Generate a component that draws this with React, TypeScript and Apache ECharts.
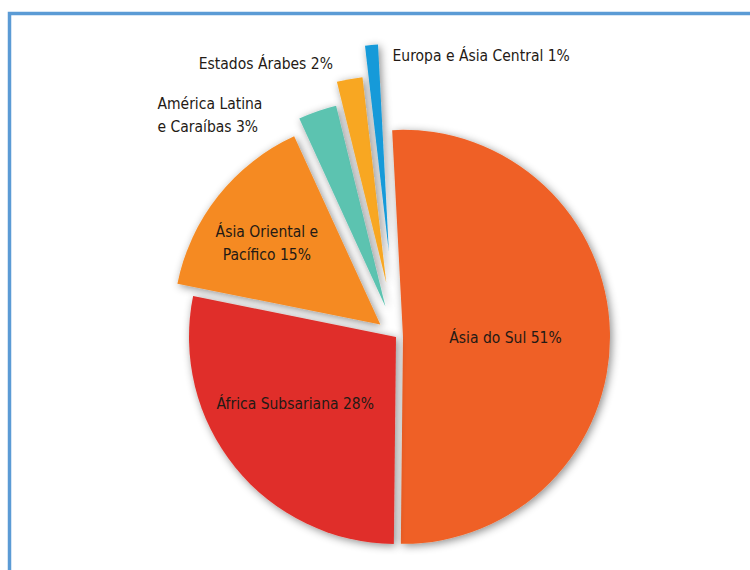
import React, { useEffect, useRef } from "react";
import * as echarts from "echarts";

const categories = [
  "Ásia do Sul",
  "África Subsariana",
  "Ásia Oriental e\nPacífico",
  "América Latina\ne Caraíbas",
  "Estados Árabes",
  "Europa e Ásia Central",
];
const values = [51, 28, 15, 3, 2, 1];
const colors = ["#EF6125", "#E02F29", "#F58A21", "#5CC3B0", "#F8A724", "#139AD9"];
const explode = [7, 0, 20, 32, 55, 86];

const labelPos = ["inside", "inside", "inside", "outside", "outside", "outside"];
const lineLen1 = [0, 0, 0, 0, 15, 0];
const lineLen2 = [0, 0, 0, 50, 9, 0];
const layoutTweak: any[] = [
  { dx: -4, dy: 3 },
  { dx: -18 },
  { dx: -30, dy: -15 },
  { dy: 4 },
  {},
  { align: "left", dx: 26, dy: 11 },
];

const FONT = "'Liberation Sans Narrow', 'DejaVu Sans Condensed', sans-serif";
const FS = 15.5;
const TEXT = "#241a15";

export default function App() {
  const ref = useRef<HTMLDivElement>(null);
  useEffect(() => {
    if (!ref.current) return;
    const chart = echarts.init(ref.current, undefined, { renderer: "svg" });
    const series = values.map((_, i) => ({
      type: "pie",
      center: [396, 337],
      radius: [0, 207],
      startAngle: 93,
      clockwise: true,
      selectedMode: "multiple",
      selectedOffset: explode[i],
      avoidLabelOverlap: false,
      silent: true,
      z: 2 + i,
      label: {
        position: labelPos[i],
        color: TEXT,
        fontFamily: FONT,
        fontSize: FS,
        lineHeight: 23,
        align: "center",
        formatter: (p: any) =>
          `${p.name} ${p.value}%`
            .split("\n")
            .map((s: string) => `{t|${s}}`)
            .join("\n"),
        rich: {
          t: {
            color: TEXT,
            fontFamily: FONT,
            fontSize: FS,
            lineHeight: 23,
            align: i === 3 ? "left" : i === 2 ? "center" : undefined,
          },
        },
      },
      labelLine: { show: false, length: lineLen1[i], length2: lineLen2[i] },
      labelLayout: { hideOverlap: false, moveOverlap: false, ...layoutTweak[i] },
      emphasis: { disabled: true },
      data: values.map((v, j) => ({
        name: categories[j],
        value: v,
        selected: j === i,
        itemStyle:
          j === i
            ? {
                color: colors[j],
                shadowBlur: 8,
                shadowColor: "rgba(0,0,0,0.45)",
                shadowOffsetX: 2,
                shadowOffsetY: 2,
              }
            : { color: "rgba(0,0,0,0)" },
        label: { show: j === i },
      })),
    }));
    chart.setOption({
      animation: false,
      backgroundColor: "#ffffff",
      graphic: [
        {
          type: "rect",
          z: 0,
          shape: { x: 9.5, y: 13.5, width: 800, height: 620 },
          style: { fill: "none", stroke: "#5B9BD5", lineWidth: 3.5 },
        },
      ],
      series,
    } as any);
    return () => chart.dispose();
  }, []);
  return (
    <div
      ref={ref}
      style={{ position: "fixed", left: 0, top: 0, width: 750, height: 570 }}
    />
  );
}
